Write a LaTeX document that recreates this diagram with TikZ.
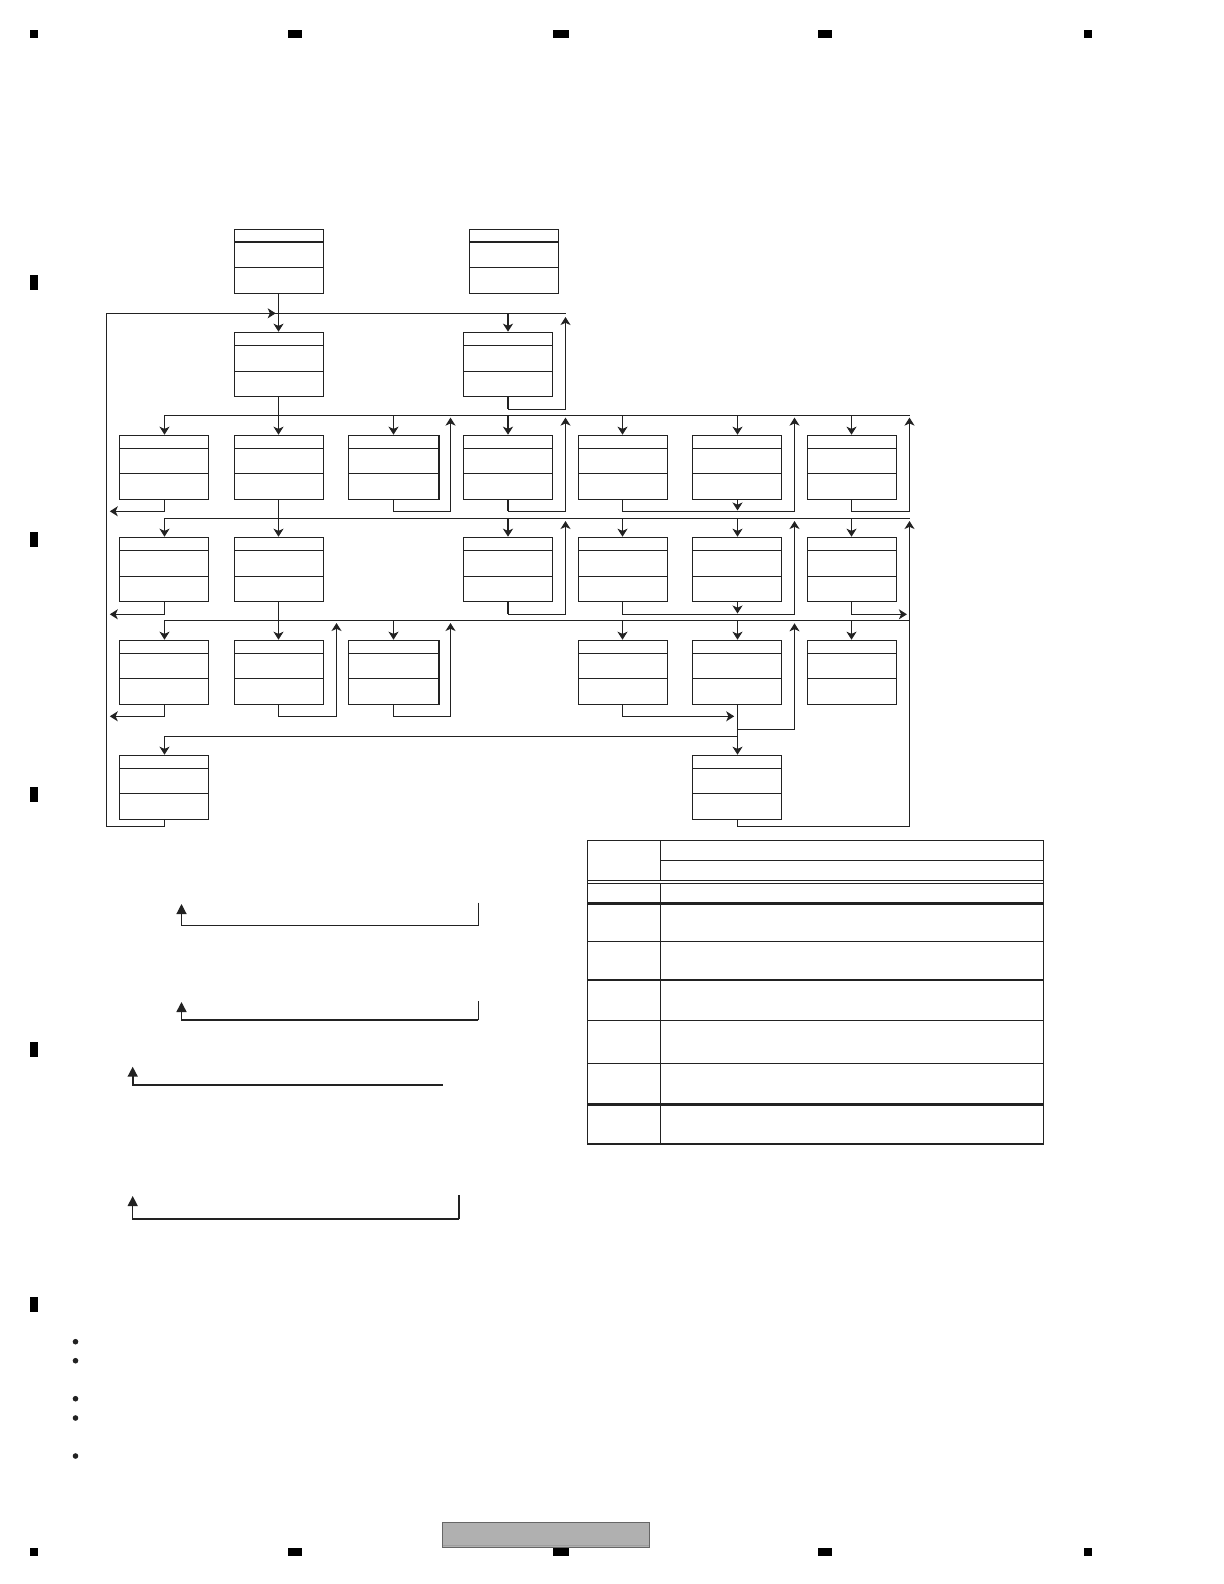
\documentclass[tikz,border=0pt]{standalone}
\usetikzlibrary{arrows.meta}
\definecolor{ink}{HTML}{222222}
\tikzset{
  ln/.style={draw=ink,line width=0.55pt,line cap=butt,line join=miter},
  hv/.style={draw=ink,line width=0.85pt,line join=miter},
  boxnode/.style={rectangle,draw=none,minimum width=44.5pt,minimum height=32pt,inner sep=0pt,outer sep=0pt},
  arr/.style={ln,shorten >=0.4pt,-{Stealth[length=4pt,width=5pt,inset=1.1pt]}},
  harr/.style={hv,shorten >=0.4pt,-{Stealth[length=4pt,width=5pt,inset=1.1pt]}},
  bigarr/.style={-{Triangle[length=5pt,width=5pt]}},
  dot/.style={circle,fill=ink,draw=none,minimum size=2.8pt,inner sep=0pt},
}
% column centres and box edges
\def\ca{164.5}\def\la{119.5}\def\ra{208.5}
\def\cb{278.5}\def\lb{234.5}\def\rb{323.5}
\def\cc{393.5}\def\lc{348.5}\def\rc{438.5}
\def\cd{508}\def\ld{463.5}\def\rd{552.5}
\def\ce{622.5}\def\le{578.5}\def\re{667.5}
\def\cf{737.5}\def\lf{692.5}\def\rf{781.5}
\def\cg{851.5}\def\lg{807.5}\def\rg{896.5}
\def\ct{514}\def\lt{469.5}\def\rt{558.5}
% name, column letter, top y, first rule offset, second rule offset
\newcommand{\flowbox}[5]{%
  \node[boxnode] (#1) at (\csname c#2\endcsname,#3+32.2) {};
  \draw[ln] (\csname l#2\endcsname,#3) rectangle (\csname r#2\endcsname,#3+64.2);
  \draw[ln] (\csname l#2\endcsname,#3+#4) -- (\csname r#2\endcsname,#3+#4);
  \draw[ln] (\csname l#2\endcsname,#3+#5) -- (\csname r#2\endcsname,#3+#5);
}
\begin{document}
\begin{tikzpicture}[x=0.5pt,y=-0.5pt]
\path[fill=white,use as bounding box] (0,0) rectangle (1224,1584);

% registration marks
\foreach \a/\b in {30/38,288/302,553/569,818/832,1084/1092}{
  \fill[black] (\a,30) rectangle (\b,38);
  \fill[black] (\a,1548) rectangle (\b,1556);
}
\foreach \a in {275,532,787,1042,1297}{
  \fill[black] (30,\a) rectangle (38,\a+15);
}

% top boxes
\flowbox{tA}{b}{229.3}{12.4}{38}
\flowbox{tB}{t}{229.3}{12.4}{38}
\draw[line width=1pt,draw=ink] (\lb,241.7) -- (\rb,241.7);
\draw[line width=1pt,draw=ink] (\lt,241.7) -- (\rt,241.7);

% row 1
\flowbox{aB}{b}{332.3}{13}{39}
\flowbox{aD}{d}{332.3}{13}{39}
% row 2
\flowbox{bA}{a}{435.3}{13}{38}
\flowbox{bB}{b}{435.3}{13}{38}
\flowbox{bC}{c}{435.3}{13}{38}
\flowbox{bD}{d}{435.3}{13}{38}
\flowbox{bE}{e}{435.3}{13}{38}
\flowbox{bF}{f}{435.3}{13}{38}
\flowbox{bG}{g}{435.3}{13}{38}
% row 3
\flowbox{cA}{a}{537.3}{13}{39}
\flowbox{cB}{b}{537.3}{13}{39}
\flowbox{cD}{d}{537.3}{13}{39}
\flowbox{cE}{e}{537.3}{13}{39}
\flowbox{cF}{f}{537.3}{13}{39}
\flowbox{cG}{g}{537.3}{13}{39}
% row 4
\flowbox{dA}{a}{640.3}{13}{38}
\flowbox{dB}{b}{640.3}{13}{38}
\flowbox{dC}{c}{640.3}{13}{38}
\flowbox{dE}{e}{640.3}{13}{38}
\flowbox{dF}{f}{640.3}{13}{38}
\flowbox{dG}{g}{640.3}{13}{38}
% row 5
\flowbox{eA}{a}{755.3}{13}{38}
\flowbox{eF}{f}{755.3}{13}{38}

% thick right edges
\draw[line width=1pt,draw=ink] (\rc,435.3) -- (\rc,499.5);
\draw[line width=1pt,draw=ink] (\rc,640.3) -- (\rc,704.5);

% rails
\coordinate (busA) at (0,313.3);
\coordinate (busB) at (0,415.3);
\coordinate (busC) at (0,518.3);
\coordinate (busD) at (0,620.3);
\coordinate (busE) at (0,736.3);
\coordinate (retA) at (0,409.3);
\coordinate (retB) at (0,511.3);
\coordinate (retC) at (0,614.3);
\coordinate (retD) at (0,716.3);
\coordinate (botY) at (0,826.3);
\coordinate (leftX) at (106.5,0);
\coordinate (leftTip) at (109,0);
\coordinate (xA) at (565.5,0);
\coordinate (xB) at (450.5,0);
\coordinate (xC) at (794.5,0);
\coordinate (xD) at (336.5,0);
\coordinate (xR) at (909.5,0);

% top feeds
\draw[arr] (tA.south) -- (aB.north);
\draw[ln] (leftX |- busA) -- (xA |- busA);
\draw[arr] (aB.north |- busA) ++(-20,0) -- ++(18,0);
\draw[harr] (aD.north |- busA) -- (aD.north);
\draw[hv] (aD.south) -- (aD.south |- retA);
\draw[arr] (aD.south |- retA) -- (xA |- retA) -- (xA |- 0,316.2);

% bus B and row 2
\draw[ln] (bA.north |- busB) -- (xR |- busB);
\draw[arr] (bA.north |- busB) -- (bA.north);
\draw[arr] (aB.south) -- (bB.north);
\draw[arr] (bC.north |- busB) -- (bC.north);
\draw[harr] (bD.north |- busB) -- (bD.north);
\draw[arr] (bE.north |- busB) -- (bE.north);
\draw[arr] (bF.north |- busB) -- (bF.north);
\draw[arr] (bG.north |- busB) -- (bG.north);

\draw[arr] (bA.south) -- (bA.south |- retB) -- (leftTip |- retB);
\draw[arr] (bB.south) -- (cB.north);
\draw[arr] (bC.south) -- (bC.south |- retB) -- (xB |- retB) -- (xB |- 0,416.8);
\draw[hv] (bD.south) -- (bD.south |- retB);
\draw[arr] (bD.south |- retB) -- (xA |- retB) -- (xA |- 0,416.8);
\draw[arr] (bE.south) -- (bE.south |- retB) -- (xC |- retB) -- (xC |- 0,416.8);
\draw[arr] (bF.south) -- (bF.south |- retB);
\draw[arr] (bG.south) -- (bG.south |- retB) -- (xR |- retB) -- (xR |- 0,416.8);

% bus C and row 3
\draw[ln] (cA.north |- busC) -- (xR |- busC);
\draw[arr] (cA.north |- busC) -- (cA.north);
\draw[harr] (cD.north |- busC) -- (cD.north);
\draw[arr] (cE.north |- busC) -- (cE.north);
\draw[arr] (cF.north |- busC) -- (cF.north);
\draw[arr] (cG.north |- busC) -- (cG.north);

\draw[arr] (cA.south) -- (cA.south |- retC) -- (leftTip |- retC);
\draw[arr] (cB.south) -- (dB.north);
\draw[hv] (cD.south) -- (cD.south |- retC);
\draw[arr] (cD.south |- retC) -- (xA |- retC) -- (xA |- 0,520.2);
\draw[arr] (cE.south) -- (cE.south |- retC) -- (xC |- retC) -- (xC |- 0,520.2);
\draw[arr] (cF.south) -- (cF.south |- retC);
\draw[arr] (cG.south) -- (cG.south |- retC) -- (907.7,614.3);

% bus D and row 4
\draw[ln] (dA.north |- busD) -- (xR |- busD);
\draw[arr] (dA.north |- busD) -- (dA.north);
\draw[arr] (dC.north |- busD) -- (dC.north);
\draw[arr] (dE.north |- busD) -- (dE.north);
\draw[arr] (dF.north |- busD) -- (dF.north);
\draw[arr] (dG.north |- busD) -- (dG.north);

\draw[arr] (dA.south) -- (dA.south |- retD) -- (leftTip |- retD);
\draw[arr] (dB.south) -- (dB.south |- retD) -- (xD |- retD) -- (xD |- 0,622.2);
\draw[arr] (dC.south) -- (dC.south |- retD) -- (xB |- retD) -- (xB |- 0,622.2);
\draw[arr] (dE.south) -- (dE.south |- retD) -- (735,716.3);
\draw[arr] (dF.south) -- (eF.north);
\draw[arr] (dF.south |- 0,729.3) -- (xC |- 0,729.3) -- (xC |- 0,622.5);

% bus E and row 5
\draw[ln] (eA.north |- busE) -- (eF.north |- busE);
\draw[arr] (eA.north |- busE) -- (eA.north);
\draw[ln] (eA.south) -- (eA.south |- botY) -- (leftX |- botY) -- (leftX |- busA);
\draw[arr] (eF.south) -- (eF.south |- botY) -- (xR |- botY) -- (xR |- 0,520.2);

% table
\draw[line width=0.7pt,draw=ink] (587.3,840.3) rectangle (1043.3,1144.3);
\draw[ln] (660.3,840.3) -- (660.3,880.3);
\draw[ln] (660.3,883.3) -- (660.3,1144.3);
\draw[ln] (660.3,860.3) -- (1043.3,860.3);
\draw[ln] (587.3,880.3) -- (1043.3,880.3);
\draw[ln] (587.3,883.3) -- (1043.3,883.3);
\draw[line width=1.3pt,draw=ink] (587.3,903.3) -- (1043.3,903.3);
\draw[ln] (587.3,941.3) -- (1043.3,941.3);
\draw[line width=0.9pt,draw=ink] (587.3,980) -- (1043.3,980);
\draw[ln] (587.3,1020.3) -- (1043.3,1020.3);
\draw[ln] (587.3,1063.3) -- (1043.3,1063.3);
\draw[line width=1.3pt,draw=ink] (587.3,1104.3) -- (1043.3,1104.3);
\draw[line width=1pt,draw=ink] (587.3,1144.3) -- (1043.3,1144.3);

% brackets below
\coordinate (qa) at (478.3,902.7);
\coordinate (qb) at (181.5,904);
\draw[line width=0.58pt,draw=ink,line join=miter,bigarr] (qa) -- (478.3,925.5) -- (181.5,925.5) -- (qb);
\coordinate (qc) at (478.3,1001);
\coordinate (qd) at (181.5,1002);
\draw[line width=0.5pt,draw=ink] (qc) -- (478.3,1020);
\draw[line width=0.8pt,draw=ink,line join=miter,bigarr] (478.3,1020) -- (181.5,1020) -- (qd);
\coordinate (qe) at (442.7,1085);
\coordinate (qf) at (132.7,1066.7);
\draw[line width=0.8pt,draw=ink,line join=miter,bigarr] (qe) -- (132.7,1085) -- (qf);
\coordinate (qg) at (459,1195);
\coordinate (qh) at (132.7,1196);
\draw[line width=0.9pt,draw=ink] (qg) -- (459,1219);
\draw[line width=0.65pt,draw=ink,line join=miter,bigarr] (459,1219) -- (132.7,1219) -- (qh);

% bullets
\node[dot] (bu1) at (75.5,1341.7) {};
\node[dot] (bu2) at (75.5,1360.7) {};
\node[dot] (bu3) at (75.5,1398.7) {};
\node[dot] (bu4) at (75.5,1418) {};
\node[dot] (bu5) at (75.5,1456) {};

% footer band
\draw[draw=black!60,line width=0.6pt,fill=black!31] (442.3,1522.3) rectangle (649.3,1547.3);
\draw[draw=black!38,line width=0.3pt] (442.8,1545) -- (648.8,1545);
\end{tikzpicture}
\end{document}
